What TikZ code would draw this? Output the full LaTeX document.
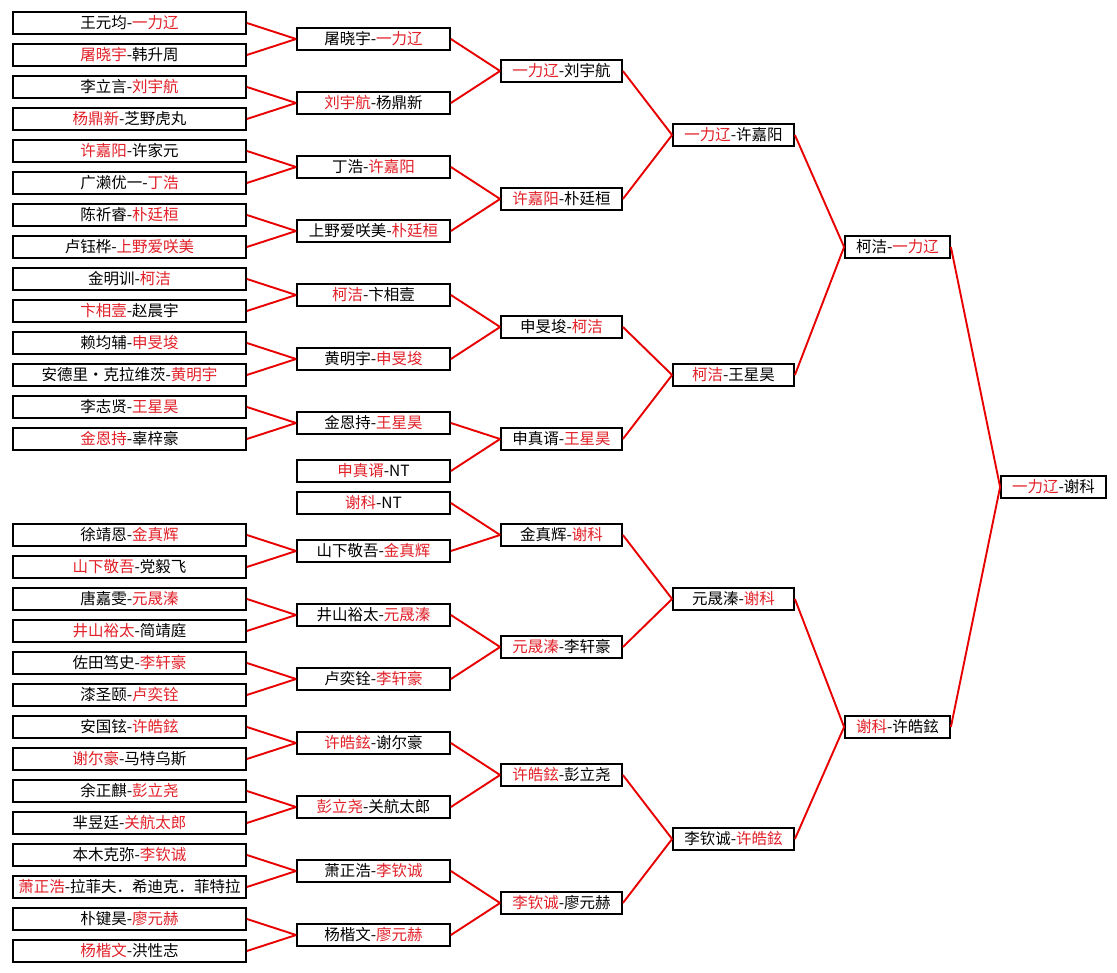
\documentclass[tikz,border=0pt]{standalone}
\usepackage{fontspec}
\setmainfont{Noto Sans CJK SC}
\usepackage{tikz}

\definecolor{winred}{RGB}{226,32,40}
\definecolor{linered}{RGB}{232,0,0}
\newcommand{\W}[1]{\textcolor{winred}{#1}}

\begin{document}
\begin{tikzpicture} [
        x=1pt, y=-1pt,
        every node/.style={draw=black, line width=2.3pt, fill=white, text=black,
            minimum height=22.5pt, inner sep=0pt, font=\fontsize{15.5}{18}\selectfont},
        round1/.style={minimum width=232.5pt},
        round2/.style={minimum width=152.5pt},
        round3/.style={minimum width=120.5pt},
        round5/.style={minimum width=104.5pt},
        wire/.style={draw=linered, line width=1.9pt}
    ]
    \useasboundingbox[fill=white] (0,0) rectangle (1117,973);

    % first round
    \node[round1] (a1)  at (129.5, 23)  {王元均-\W{一力辽}};
    \node[round1] (a2)  at (129.5, 55)  {\W{屠晓宇}-韩升周};
    \node[round1] (a3)  at (129.5, 87)  {李立言-\W{刘宇航}};
    \node[round1] (a4)  at (129.5,119)  {\W{杨鼎新}-芝野虎丸};
    \node[round1] (a5)  at (129.5,151)  {\W{许嘉阳}-许家元};
    \node[round1] (a6)  at (129.5,183)  {广濑优一-\W{丁浩}};
    \node[round1] (a7)  at (129.5,215)  {陈祈睿-\W{朴廷桓}};
    \node[round1] (a8)  at (129.5,247)  {卢钰桦-\W{上野爱咲美}};
    \node[round1] (a9)  at (129.5,279)  {金明训-\W{柯洁}};
    \node[round1] (a10) at (129.5,311)  {\W{卞相壹}-赵晨宇};
    \node[round1] (a11) at (129.5,343)  {赖均辅-\W{申旻埈}};
    \node[round1] (a12) at (129.5,375)  {安德里·克拉维茨-\W{黄明宇}};
    \node[round1] (a13) at (129.5,407)  {李志贤-\W{王星昊}};
    \node[round1] (a14) at (129.5,439)  {\W{金恩持}-辜梓豪};
    \node[round1] (a15) at (129.5,535)  {徐靖恩-\W{金真辉}};
    \node[round1] (a16) at (129.5,567)  {\W{山下敬吾}-党毅飞};
    \node[round1] (a17) at (129.5,599)  {唐嘉雯-\W{元晟溱}};
    \node[round1] (a18) at (129.5,631)  {\W{井山裕太}-简靖庭};
    \node[round1] (a19) at (129.5,663)  {佐田笃史-\W{李轩豪}};
    \node[round1] (a20) at (129.5,695)  {漆圣颐-\W{卢奕铨}};
    \node[round1] (a21) at (129.5,727)  {安国铉-\W{许皓鉉}};
    \node[round1] (a22) at (129.5,759)  {\W{谢尔豪}-马特乌斯};
    \node[round1] (a23) at (129.5,791)  {余正麒-\W{彭立尧}};
    \node[round1] (a24) at (129.5,823)  {芈昱廷-\W{关航太郎}};
    \node[round1] (a25) at (129.5,855)  {本木克弥-\W{李钦诚}};
    \node[round1] (a26) at (129.5,887)  {\W{萧正浩}-拉菲夫．希迪克．菲特拉};
    \node[round1] (a27) at (129.5,919)  {朴键昊-\W{廖元赫}};
    \node[round1] (a28) at (129.5,951)  {\W{杨楷文}-洪性志};

    % second round
    \node[round2] (b1)  at (373.5, 39)  {屠晓宇-\W{一力辽}};
    \node[round2] (b2)  at (373.5,103)  {\W{刘宇航}-杨鼎新};
    \node[round2] (b3)  at (373.5,167)  {丁浩-\W{许嘉阳}};
    \node[round2] (b4)  at (373.5,231)  {上野爱咲美-\W{朴廷桓}};
    \node[round2] (b5)  at (373.5,295)  {\W{柯洁}-卞相壹};
    \node[round2] (b6)  at (373.5,359)  {黄明宇-\W{申旻埈}};
    \node[round2] (b7)  at (373.5,423)  {金恩持-\W{王星昊}};
    \node[round2] (b8)  at (373.5,471)  {\W{申真谞}-NT};
    \node[round2] (b9)  at (373.5,503)  {\W{谢科}-NT};
    \node[round2] (b10) at (373.5,551)  {山下敬吾-\W{金真辉}};
    \node[round2] (b11) at (373.5,615)  {井山裕太-\W{元晟溱}};
    \node[round2] (b12) at (373.5,679)  {卢奕铨-\W{李轩豪}};
    \node[round2] (b13) at (373.5,743)  {\W{许皓鉉}-谢尔豪};
    \node[round2] (b14) at (373.5,807)  {\W{彭立尧}-关航太郎};
    \node[round2] (b15) at (373.5,871)  {萧正浩-\W{李钦诚}};
    \node[round2] (b16) at (373.5,935)  {杨楷文-\W{廖元赫}};

    % third round
    \node[round3] (c1)  at (561.5, 71)  {\W{一力辽}-刘宇航};
    \node[round3] (c2)  at (561.5,199)  {\W{许嘉阳}-朴廷桓};
    \node[round3] (c3)  at (561.5,327)  {申旻埈-\W{柯洁}};
    \node[round3] (c4)  at (561.5,439)  {申真谞-\W{王星昊}};
    \node[round3] (c5)  at (561.5,535)  {金真辉-\W{谢科}};
    \node[round3] (c6)  at (561.5,647)  {\W{元晟溱}-李轩豪};
    \node[round3] (c7)  at (561.5,775)  {\W{许皓鉉}-彭立尧};
    \node[round3] (c8)  at (561.5,903)  {\W{李钦诚}-廖元赫};

    % quarter finals
    \node[round3] (d1)  at (733.5,135)  {\W{一力辽}-许嘉阳};
    \node[round3] (d2)  at (733.5,375)  {\W{柯洁}-王星昊};
    \node[round3] (d3)  at (733.5,599)  {元晟溱-\W{谢科}};
    \node[round3] (d4)  at (733.5,839)  {李钦诚-\W{许皓鉉}};

    % semi finals and final
    \node[round5] (e1)  at (897.5,247)  {柯洁-\W{一力辽}};
    \node[round5] (e2)  at (897.5,727)  {\W{谢科}-许皓鉉};
    \node[round5] (f)   at (1053.5,487) {\W{一力辽}-谢科};

    \path[wire]
    % round 1 -> round 2
    (a1.east)  edge (b1.west)   (a2.east)  edge (b1.west)
    (a3.east)  edge (b2.west)   (a4.east)  edge (b2.west)
    (a5.east)  edge (b3.west)   (a6.east)  edge (b3.west)
    (a7.east)  edge (b4.west)   (a8.east)  edge (b4.west)
    (a9.east)  edge (b5.west)   (a10.east) edge (b5.west)
    (a11.east) edge (b6.west)   (a12.east) edge (b6.west)
    (a13.east) edge (b7.west)   (a14.east) edge (b7.west)
    (a15.east) edge (b10.west)  (a16.east) edge (b10.west)
    (a17.east) edge (b11.west)  (a18.east) edge (b11.west)
    (a19.east) edge (b12.west)  (a20.east) edge (b12.west)
    (a21.east) edge (b13.west)  (a22.east) edge (b13.west)
    (a23.east) edge (b14.west)  (a24.east) edge (b14.west)
    (a25.east) edge (b15.west)  (a26.east) edge (b15.west)
    (a27.east) edge (b16.west)  (a28.east) edge (b16.west)

    % round 2 -> round 3
    (b1.east)  edge (c1.west)   (b2.east)  edge (c1.west)
    (b3.east)  edge (c2.west)   (b4.east)  edge (c2.west)
    (b5.east)  edge (c3.west)   (b6.east)  edge (c3.west)
    (b7.east)  edge (c4.west)   (b8.east)  edge (c4.west)
    (b9.east)  edge (c5.west)   (b10.east) edge (c5.west)
    (b11.east) edge (c6.west)   (b12.east) edge (c6.west)
    (b13.east) edge (c7.west)   (b14.east) edge (c7.west)
    (b15.east) edge (c8.west)   (b16.east) edge (c8.west)

    % round 3 -> quarter finals
    (c1.east)  edge (d1.west)   (c2.east)  edge (d1.west)
    (c3.east)  edge (d2.west)   (c4.east)  edge (d2.west)
    (c5.east)  edge (d3.west)   (c6.east)  edge (d3.west)
    (c7.east)  edge (d4.west)   (c8.east)  edge (d4.west)

    % quarter finals -> semi finals -> final
    (d1.east)  edge (e1.west)   (d2.east)  edge (e1.west)
    (d3.east)  edge (e2.west)   (d4.east)  edge (e2.west)
    (e1.east)  edge (f.west)    (e2.east)  edge (f.west);
\end{tikzpicture}
\end{document}
